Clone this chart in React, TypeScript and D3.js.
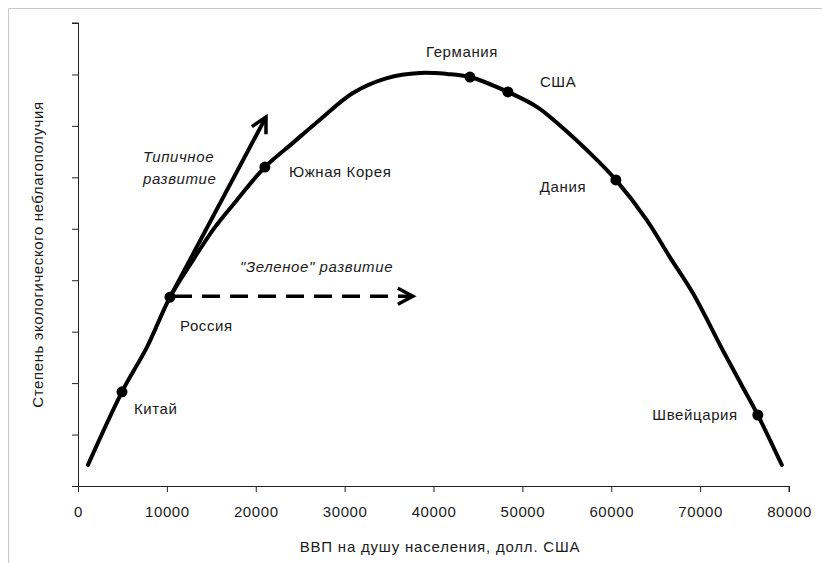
import React, { useEffect, useRef } from 'react';
import * as d3 from 'd3';

// curve: GDP per capita (USD) vs. degree of ecological distress (no units)
const curveGdp = [
  1125, 4950, 7760, 10350, 12940, 15190, 17890, 21030, 24180, 27220, 30930,
  34760, 38470, 41510, 44100, 48370, 51630, 53880, 58380, 60520, 64000, 66590,
  69180, 72550, 74800, 76490, 79190,
];
const curveLevel = [
  0.41, 1.83, 2.7, 3.67, 4.39, 4.98, 5.56, 6.2, 6.67, 7.12, 7.64, 7.93, 8.03,
  8.01, 7.95, 7.66, 7.37, 7.06, 6.34, 5.95, 5.17, 4.45, 3.75, 2.64, 1.92, 1.38,
  0.41,
];

const countries = ['Китай', 'Россия', 'Южная Корея', 'Германия', 'США', 'Дания', 'Швейцария'];
const countryGdp = [4950, 10350, 21030, 44100, 48370, 60520, 76490];
const countryLevel = [1.83, 3.67, 6.2, 7.95, 7.66, 5.95, 1.38];
// label offset from the marker, px
const labelDx = [12, 10, 24, -44, 32, -76, -20];
const labelDy = [17, 29, 5, -25, -10, 7, 0];
const labelAnchor = ['start', 'start', 'start', 'start', 'start', 'start', 'end'];

const xTicks = [0, 10000, 20000, 30000, 40000, 50000, 60000, 70000, 80000];
const yTicks = [0, 1, 2, 3, 4, 5, 6, 7, 8, 9];

// arrows start at Russia
const typicalEnd = [21150, 7.17];
const greenEnd = [37680, 3.69];

const W = 822;
const H = 563;
const FONT = "'Liberation Sans', Arial, sans-serif";

const App: React.FC = () => {
  const ref = useRef<SVGSVGElement | null>(null);

  useEffect(() => {
    if (!ref.current) return;
    const svg = d3.select(ref.current);
    svg.selectAll('*').remove();

    const x = d3.scaleLinear().domain([0, 80000]).range([78, 789]);
    const y = d3.scaleLinear().domain([0, 9]).range([486, 23]);

    // frame (only top/left edges visible)
    svg.append('line').attr('x1', 8.5).attr('x2', W).attr('y1', 8.5).attr('y2', 8.5)
      .attr('stroke', '#c8c8c8');
    svg.append('line').attr('x1', 8.5).attr('x2', 8.5).attr('y1', 8.5).attr('y2', H)
      .attr('stroke', '#c8c8c8');

    const defs = svg.append('defs');
    defs.append('marker')
      .attr('id', 'arrow')
      .attr('markerUnits', 'userSpaceOnUse')
      .attr('viewBox', '-20 -12 24 24')
      .attr('markerWidth', 24)
      .attr('markerHeight', 24)
      .attr('refX', 0)
      .attr('refY', 0)
      .attr('orient', 'auto')
      .append('path')
      .attr('d', 'M-15,-8L0,0L-15,8')
      .attr('fill', 'none')
      .attr('stroke', '#000')
      .attr('stroke-width', 3.5);

    // axes
    const xAxis = svg.append('g')
      .attr('transform', `translate(0,${y(0)})`)
      .call(d3.axisBottom(x).tickValues(xTicks).tickSize(6).tickFormat(d3.format('d')));
    xAxis.select('.domain').attr('d', `M${x(0)},0.5H${x(80000)}V6`).attr('stroke', '#222');
    xAxis.selectAll('.tick line').attr('stroke', '#222');
    xAxis.selectAll('.tick text')
      .attr('y', 0).attr('dy', 0)
      .attr('transform', 'translate(0,31)')
      .attr('font-family', FONT).attr('font-size', 15)
      .attr('letter-spacing', 0.6).attr('fill', '#1a1a1a');

    const yAxis = svg.append('g')
      .attr('transform', `translate(${x(0)},0)`)
      .call(d3.axisLeft(y).tickValues(yTicks).tickSize(6).tickFormat(() => ''));
    yAxis.select('.domain').attr('d', `M-6,${y(9)}H0.5V${y(0)}`).attr('stroke', '#222');
    yAxis.selectAll('.tick line').attr('stroke', '#222');

    // axis titles
    svg.append('text')
      .attr('x', 440).attr('y', 552)
      .attr('text-anchor', 'middle')
      .attr('font-family', FONT).attr('font-size', 15).attr('letter-spacing', 0.8)
      .attr('fill', '#1a1a1a')
      .text('ВВП на душу населения, долл. США');
    svg.append('text')
      .attr('transform', `translate(43,${(y(0) + y(9)) / 2}) rotate(-90)`)
      .attr('text-anchor', 'middle')
      .attr('font-family', FONT).attr('font-size', 15).attr('letter-spacing', 0.6)
      .attr('fill', '#1a1a1a')
      .text('Степень экологического неблагополучия');

    // curve
    const pts = curveGdp.map((g, i) => [g, curveLevel[i]] as [number, number]);
    const line = d3.line<[number, number]>()
      .x((d) => x(d[0]))
      .y((d) => y(d[1]))
      .curve(d3.curveCatmullRom);
    svg.append('path')
      .datum(pts)
      .attr('fill', 'none')
      .attr('stroke', '#000')
      .attr('stroke-width', 4)
      .attr('stroke-linecap', 'round')
      .attr('d', line);

    // arrows
    const russia = countries.indexOf('Россия');
    svg.append('line')
      .attr('x1', x(countryGdp[russia])).attr('y1', y(countryLevel[russia]))
      .attr('x2', x(typicalEnd[0])).attr('y2', y(typicalEnd[1]))
      .attr('stroke', '#000').attr('stroke-width', 4)
      .attr('marker-end', 'url(#arrow)');
    svg.append('line')
      .attr('x1', x(countryGdp[russia]) + 4).attr('y1', y(greenEnd[1]))
      .attr('x2', x(greenEnd[0])).attr('y2', y(greenEnd[1]))
      .attr('stroke', '#000').attr('stroke-width', 3.5)
      .attr('stroke-dasharray', '18,10')
      .attr('marker-end', 'url(#arrow)');

    // markers and labels
    const g = svg.append('g');
    countries.forEach((name, i) => {
      const cx = x(countryGdp[i]);
      const cy = y(countryLevel[i]);
      g.append('circle').attr('cx', cx).attr('cy', cy).attr('r', 5.5).attr('fill', '#000');
      g.append('text')
        .attr('x', cx + labelDx[i]).attr('y', cy + labelDy[i])
        .attr('dy', '0.35em')
        .attr('text-anchor', labelAnchor[i])
        .attr('font-family', FONT).attr('font-size', 15).attr('letter-spacing', 0.6)
        .attr('fill', '#1a1a1a')
        .text(name);
    });

    // annotations
    const ann = svg.append('g')
      .attr('font-family', FONT).attr('font-size', 15).attr('font-style', 'italic')
      .attr('letter-spacing', 0.6).attr('fill', '#1a1a1a');
    ann.append('text').attr('x', 143).attr('y', 157).attr('dy', '0.35em').text('Типичное');
    ann.append('text').attr('x', 143).attr('y', 179).attr('dy', '0.35em').text('развитие');
    ann.append('text').attr('x', 240).attr('y', 267).attr('dy', '0.35em').text('"Зеленое" развитие');
  }, []);

  return (
    <svg
      ref={ref}
      width={W}
      height={H}
      style={{ position: 'absolute', left: 0, top: 0, background: '#fff' }}
    />
  );
};

export default App;
